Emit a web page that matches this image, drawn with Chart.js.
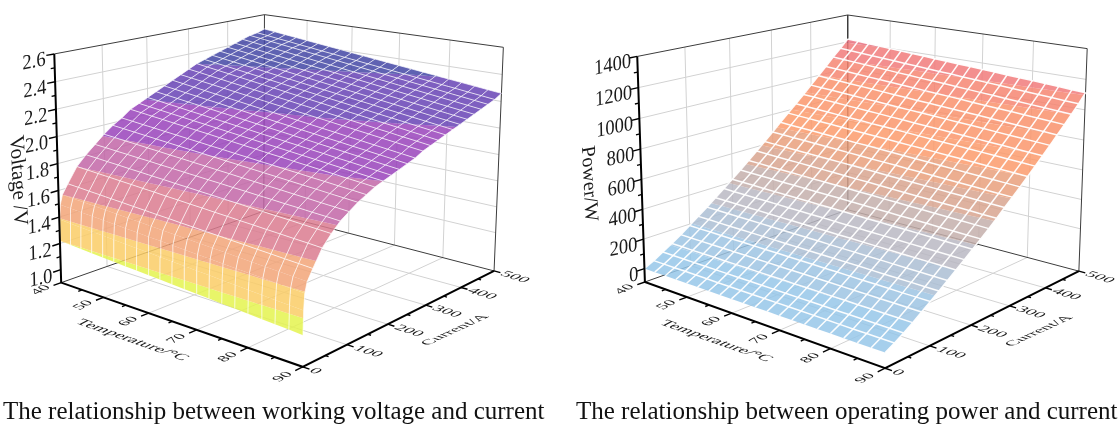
<!DOCTYPE html>
<html>
<head>
<meta charset="utf-8">
<title>Working voltage and operating power against current and temperature</title>
<script src="https://cdn.jsdelivr.net/npm/chart.js@4/dist/chart.umd.min.js"></script>
<style>
  html, body { margin: 0; padding: 0; background: #fff; }
  body { position: relative; width: 1118px; height: 424px; overflow: hidden; }
  canvas { position: absolute; top: 0; filter: blur(0.4px); }
  #voltageChart { left: 0; }
  #powerChart { left: 559px; }
  .caption { position: absolute; top: 397px; font: 25px/28px "Liberation Serif", serif; color: #111; white-space: nowrap; filter: blur(0.3px); }
</style>
</head>
<body>
<canvas id="voltageChart" width="559" height="395"></canvas>
<canvas id="powerChart" width="559" height="395"></canvas>
<div class="caption" style="left:3px">The relationship between working voltage and current</div>
<div class="caption" style="left:576px">The relationship between operating power and current</div>
<script>
// Surfaces. Each inner list runs along temperatures, one list per current.
const temperatures = [40, 42.5, 45, 47.5, 50, 52.5, 55, 57.5, 60, 62.5, 65, 67.5, 70, 72.5, 75, 77.5, 80, 82.5, 85, 87.5, 90];
const currents = [0, 20, 40, 60, 80, 100, 120, 140, 160, 180, 200, 220, 240, 260, 280, 300, 320, 340, 360, 380, 400, 420, 440, 460, 480, 500];
// the voltage climbs steeply below 20 A, so that stretch has a few more readings
const voltageCurrents = [0, 1, 3, 8, 20, 40, 60, 80, 100, 120, 140, 160, 180, 200, 220, 240, 260, 280, 300, 320, 340, 360, 380, 400, 420, 440, 460, 480, 500];

const voltageByCurrent = [
  [1.220,1.215,1.209,1.204,1.198,1.193,1.187,1.182,1.176,1.171,1.165,1.160,1.154,1.149,1.143,1.138,1.132,1.127,1.121,1.116,1.110],
  [1.380,1.375,1.369,1.364,1.358,1.353,1.347,1.342,1.336,1.331,1.325,1.320,1.314,1.309,1.303,1.298,1.292,1.287,1.281,1.276,1.270],
  [1.490,1.485,1.479,1.474,1.468,1.463,1.457,1.452,1.446,1.441,1.435,1.430,1.424,1.419,1.413,1.408,1.402,1.397,1.391,1.386,1.380],
  [1.560,1.555,1.549,1.544,1.538,1.533,1.527,1.522,1.516,1.511,1.505,1.500,1.494,1.489,1.483,1.478,1.472,1.467,1.461,1.456,1.450],
  [1.630,1.625,1.619,1.614,1.608,1.603,1.597,1.592,1.586,1.581,1.575,1.570,1.564,1.559,1.553,1.548,1.542,1.537,1.531,1.526,1.520],
  [1.740,1.735,1.729,1.724,1.718,1.713,1.707,1.702,1.696,1.691,1.685,1.680,1.674,1.669,1.663,1.658,1.652,1.647,1.641,1.636,1.630],
  [1.810,1.805,1.799,1.794,1.788,1.783,1.777,1.772,1.766,1.761,1.755,1.750,1.744,1.739,1.733,1.728,1.722,1.717,1.711,1.706,1.700],
  [1.870,1.865,1.859,1.854,1.848,1.843,1.837,1.832,1.826,1.821,1.815,1.810,1.804,1.799,1.793,1.788,1.782,1.777,1.771,1.766,1.760],
  [1.930,1.924,1.917,1.911,1.904,1.898,1.891,1.885,1.878,1.872,1.865,1.859,1.852,1.846,1.839,1.833,1.826,1.820,1.813,1.807,1.800],
  [1.980,1.973,1.966,1.959,1.952,1.945,1.938,1.931,1.924,1.917,1.910,1.903,1.896,1.889,1.882,1.875,1.868,1.861,1.854,1.847,1.840],
  [2.020,2.013,2.005,1.998,1.990,1.983,1.975,1.968,1.960,1.953,1.945,1.938,1.930,1.923,1.915,1.908,1.900,1.893,1.885,1.878,1.870],
  [2.070,2.062,2.053,2.045,2.036,2.028,2.019,2.011,2.002,1.994,1.985,1.977,1.968,1.960,1.951,1.943,1.934,1.926,1.917,1.909,1.900],
  [2.100,2.091,2.082,2.073,2.064,2.055,2.046,2.037,2.028,2.019,2.010,2.001,1.992,1.983,1.974,1.965,1.956,1.947,1.938,1.929,1.920],
  [2.130,2.121,2.111,2.102,2.092,2.083,2.073,2.064,2.054,2.045,2.035,2.026,2.016,2.007,1.997,1.988,1.978,1.969,1.959,1.950,1.940],
  [2.160,2.150,2.140,2.130,2.120,2.110,2.100,2.090,2.080,2.070,2.060,2.050,2.040,2.030,2.020,2.010,2.000,1.990,1.980,1.970,1.960],
  [2.190,2.180,2.169,2.159,2.148,2.138,2.127,2.117,2.106,2.096,2.085,2.075,2.064,2.054,2.043,2.033,2.022,2.012,2.001,1.991,1.980],
  [2.220,2.209,2.198,2.187,2.176,2.165,2.154,2.143,2.132,2.121,2.110,2.099,2.088,2.077,2.066,2.055,2.044,2.033,2.022,2.011,2.000],
  [2.250,2.239,2.228,2.217,2.206,2.195,2.184,2.173,2.162,2.151,2.140,2.129,2.118,2.107,2.096,2.085,2.074,2.063,2.052,2.041,2.030],
  [2.280,2.269,2.257,2.246,2.234,2.223,2.211,2.200,2.188,2.177,2.165,2.154,2.142,2.131,2.119,2.108,2.096,2.085,2.073,2.062,2.050],
  [2.310,2.298,2.286,2.274,2.262,2.250,2.238,2.226,2.214,2.202,2.190,2.178,2.166,2.154,2.142,2.130,2.118,2.106,2.094,2.082,2.070],
  [2.330,2.318,2.306,2.294,2.282,2.270,2.258,2.246,2.234,2.222,2.210,2.198,2.186,2.174,2.162,2.150,2.138,2.126,2.114,2.102,2.090],
  [2.350,2.338,2.326,2.314,2.302,2.290,2.278,2.266,2.254,2.242,2.230,2.218,2.206,2.194,2.182,2.170,2.158,2.146,2.134,2.122,2.110],
  [2.370,2.358,2.346,2.334,2.322,2.310,2.298,2.286,2.274,2.262,2.250,2.238,2.226,2.214,2.202,2.190,2.178,2.166,2.154,2.142,2.130],
  [2.390,2.378,2.366,2.354,2.342,2.330,2.318,2.306,2.294,2.282,2.270,2.258,2.246,2.234,2.222,2.210,2.198,2.186,2.174,2.162,2.150],
  [2.410,2.398,2.386,2.374,2.362,2.350,2.338,2.326,2.314,2.302,2.290,2.278,2.266,2.254,2.242,2.230,2.218,2.206,2.194,2.182,2.170],
  [2.430,2.418,2.406,2.394,2.382,2.370,2.358,2.346,2.334,2.322,2.310,2.298,2.286,2.274,2.262,2.250,2.238,2.226,2.214,2.202,2.190],
  [2.450,2.438,2.426,2.414,2.402,2.390,2.378,2.366,2.354,2.342,2.330,2.318,2.306,2.294,2.282,2.270,2.258,2.246,2.234,2.222,2.210],
  [2.460,2.449,2.437,2.426,2.414,2.403,2.391,2.380,2.368,2.357,2.345,2.334,2.322,2.311,2.299,2.288,2.276,2.265,2.253,2.242,2.230],
  [2.480,2.469,2.458,2.447,2.436,2.425,2.414,2.403,2.392,2.381,2.370,2.359,2.348,2.337,2.326,2.315,2.304,2.293,2.282,2.271,2.260],
];

const powerByCurrent = [
  [0,0,0,0,0,0,0,0,0,0,0,0,0,0,0,0,0,0,0,0,0],
  [32,32,32,32,32,32,31,31,31,31,31,31,31,31,31,31,30,30,30,30,30],
  [69,69,69,68,68,68,68,67,67,67,67,66,66,66,66,65,65,65,65,64,64],
  [107,107,106,106,106,105,105,105,104,104,104,103,103,103,102,102,101,101,101,100,100],
  [147,147,146,146,145,145,145,144,144,143,143,143,142,142,141,141,141,140,140,139,139],
  [190,189,189,188,187,187,186,185,185,184,184,183,182,182,181,180,180,179,178,178,177],
  [234,233,232,231,231,230,229,228,227,226,226,225,224,223,222,221,220,220,219,218,217],
  [279,278,277,276,275,274,273,272,271,270,269,267,266,265,264,263,262,261,260,259,258],
  [326,325,323,322,321,319,318,317,315,314,313,311,310,308,307,306,304,303,302,300,299],
  [372,370,369,367,366,364,362,361,359,358,356,354,353,351,350,348,346,345,343,342,340],
  [420,418,416,414,412,411,409,407,405,403,401,399,397,395,393,392,390,388,386,384,382],
  [468,466,464,462,459,457,455,453,451,449,447,444,442,440,438,436,434,431,429,427,425],
  [518,516,513,511,508,506,503,501,498,496,493,491,488,486,483,481,478,476,473,471,468],
  [569,566,563,560,558,555,552,549,546,543,541,538,535,532,529,526,523,521,518,515,512],
  [621,618,615,612,609,606,603,600,597,594,591,587,584,581,578,575,572,569,566,563,560],
  [674,671,667,664,660,657,654,650,647,643,640,637,633,630,626,623,620,616,613,609,606],
  [728,724,720,717,713,709,705,701,698,694,690,686,682,679,675,671,667,663,660,656,652],
  [780,776,772,768,764,760,756,752,748,744,740,736,732,728,724,720,716,712,708,704,700],
  [833,829,825,820,816,812,808,803,799,795,791,786,782,778,774,769,765,761,757,752,748],
  [887,883,878,874,869,865,860,856,851,847,842,838,833,829,824,820,815,811,806,802,797],
  [942,937,933,928,923,918,914,909,904,899,895,890,885,880,876,871,866,861,857,852,847],
  [997,992,987,982,977,972,967,962,957,952,948,943,938,933,928,923,918,913,908,903,898],
  [1053,1048,1043,1037,1032,1027,1022,1017,1011,1006,1001,996,991,985,980,975,970,965,959,954,949],
  [1110,1105,1099,1094,1088,1083,1077,1072,1066,1061,1056,1050,1045,1039,1034,1028,1023,1017,1012,1006,1001],
  [1163,1158,1152,1147,1141,1136,1130,1125,1119,1114,1109,1103,1098,1092,1087,1081,1076,1070,1065,1059,1054],
  [1221,1216,1210,1205,1199,1194,1189,1183,1178,1172,1167,1162,1156,1151,1145,1140,1135,1129,1124,1118,1113],
];

const temperatureTicks = [40, 50, 60, 70, 80, 90];
const currentTicks = [0, 100, 200, 300, 400, 500];
const voltageTicks = [1.0, 1.2, 1.4, 1.6, 1.8, 2.0, 2.2, 2.4, 2.6];
const powerTicks = [0, 200, 400, 600, 800, 1000, 1200, 1400];

const voltageLevels = [1.22, 1.39, 1.56, 1.74, 1.92, 2.12, 2.31];
const voltageColors = ["228,243,79", "250,205,102", "242,164,120", "219,123,143", "194,102,167", "153,67,187", "103,67,181", "67,70,165"];
const powerLevels = [100, 200, 300, 400, 500, 600, 700, 800, 900, 1000, 1100, 1200];
const powerColors = ["150,199,233", "158,196,227", "172,190,212", "186,185,195", "196,175,172", "216,164,143", "233,160,125", "252,155,108", "250,150,108", "249,146,108", "246,134,114", "241,123,123", "236,116,132"];

// Where the box corners and axis ticks sit in the picture: [temperature, current, z, x, y], all but x, y as 0..1.
const voltageAnchors = [
  [0, 0, 0, 63, 283], [0, 0, 1, 54, 54], [0, 1, 0, 263, 211], [0, 1, 1, 265, 14],
  [1, 1, 0, 493, 271], [1, 1, 1, 503, 48], [1, 0, 0, 303, 366],
  [0.2, 0, 0, 103, 298], [0.4, 0, 0, 148, 313], [0.6, 0, 0, 197, 330], [0.8, 0, 0, 245, 348],
  [1, 0.2, 0, 348, 344], [1, 0.4, 0, 388, 324], [1, 0.6, 0, 427, 305], [1, 0.8, 0, 462, 288],
];
const powerAnchors = [
  [0, 0, 0, 647, 284], [0, 0, 1, 637, 56], [0, 1, 0, 847, 208], [0, 1, 1, 848, 15],
  [1, 1, 0, 1077, 272], [1, 1, 1, 1087, 49], [1, 0, 0, 885, 367],
  [0.2, 0, 0, 686, 298], [0.4, 0, 0, 731, 313], [0.6, 0, 0, 780, 330], [0.8, 0, 0, 828, 348],
  [1, 0.2, 0, 930, 345], [1, 0.4, 0, 972, 325], [1, 0.6, 0, 1011, 306], [1, 0.8, 0, 1047, 289],
];

// Least squares fit of the 3x4 camera matrix behind the box in the picture.
function fitCamera(anchors) {
  const A = Array.from({ length: 11 }, () => new Array(12).fill(0));
  const addRow = (row, rhs) => {
    for (let r = 0; r < 11; r++) {
      for (let c = 0; c < 11; c++) A[r][c] += row[r] * row[c];
      A[r][11] += row[r] * rhs;
    }
  };
  for (const [t, i, z, px, py] of anchors) {
    const x = px / 1000, y = py / 1000;
    addRow([t, i, z, 1, 0, 0, 0, 0, -x * t, -x * i, -x * z], x);
    addRow([0, 0, 0, 0, t, i, z, 1, -y * t, -y * i, -y * z], y);
  }
  for (let c = 0; c < 11; c++) {
    let best = c;
    for (let r = c + 1; r < 11; r++) if (Math.abs(A[r][c]) > Math.abs(A[best][c])) best = r;
    [A[c], A[best]] = [A[best], A[c]];
    for (let r = 0; r < 11; r++) {
      if (r === c) continue;
      const f = A[r][c] / A[c][c];
      for (let k = c; k < 12; k++) A[r][k] -= f * A[c][k];
    }
  }
  const m = A.map((row, r) => row[11] / row[r]);
  return (t, i, z) => {
    const w = m[8] * t + m[9] * i + m[10] * z + 1;
    return {
      x: (1000 * (m[0] * t + m[1] * i + m[2] * z + m[3])) / w,
      y: (1000 * (m[4] * t + m[5] * i + m[6] * z + m[7])) / w,
    };
  };
}

// Keeps the part of a cell polygon whose value side is above (sign 1) or below (sign -1) the level.
function clipCell(poly, level, sign) {
  const out = [];
  poly.forEach((a, k) => {
    const b = poly[(k + 1) % poly.length];
    const da = (a[2] - level) * sign, db = (b[2] - level) * sign;
    if (da >= 0) out.push(a);
    if (da >= 0 !== db >= 0) {
      const f = da / (da - db);
      out.push([a[0] + (b[0] - a[0]) * f, a[1] + (b[1] - a[1]) * f, level]);
    }
  });
  return out;
}

function surfaceChart(canvasId, cfg) {
  const project = fitCamera(cfg.anchors);
  const tNorm = (t) => (t - 40) / 50;
  const iNorm = (i) => i / 500;
  const zNorm = (v) => (v - cfg.zMin) / (cfg.zMax - cfg.zMin);
  const toPixel = (t, i, v) => project(tNorm(t), iNorm(i), zNorm(v));

  const layers = [];
  const line = (points, color, width) =>
    layers.push({ data: points, showLine: true, pointRadius: 0, borderColor: color, borderWidth: width, tension: 0 });
  const box = (t, i, z) => project(t, i, z);

  // back walls and floor
  const grid = "#d2d2d2";
  for (const v of cfg.zTicks.slice(1, -1)) {
    const z = zNorm(v);
    line([box(0, 0, z), box(0, 1, z), box(1, 1, z)], grid, 1);
  }
  for (const i of currentTicks.slice(1, -1)) {
    line([box(0, iNorm(i), 0), box(0, iNorm(i), 1)], grid, 1);
    line([box(0, iNorm(i), 0), box(1, iNorm(i), 0)], grid, 1);
  }
  for (const t of temperatureTicks.slice(1, -1)) {
    line([box(tNorm(t), 1, 0), box(tNorm(t), 1, 1)], grid, 1);
    line([box(tNorm(t), 0, 0), box(tNorm(t), 1, 0)], grid, 1);
  }
  const edge = "#3c3c3c";
  line([box(0, 0, 1), box(0, 1, 1), box(1, 1, 1), box(1, 1, 0)], edge, 1);
  line([box(0, 1, 1), box(0, 1, 0)], edge, 1);
  line([box(0, 0, 0), box(0, 1, 0), box(1, 1, 0)], edge, 1);

  // colour bands of the surface, one polygon per cell and band
  for (let c = 0; c < cfg.currents.length - 1; c++) {
    for (let r = 0; r < temperatures.length - 1; r++) {
      const cell = [[r, c], [r + 1, c], [r + 1, c + 1], [r, c + 1]].map(([a, b]) => [temperatures[a], cfg.currents[b], cfg.values[b][a]]);
      cfg.colors.forEach((color, band) => {
        let poly = cell;
        if (band > 0) poly = clipCell(poly, cfg.levels[band - 1], 1);
        if (band < cfg.levels.length && poly.length) poly = clipCell(poly, cfg.levels[band], -1);
        if (poly.length < 3) return;
        layers.push({
          data: poly.map((p) => toPixel(p[0], p[1], p[2])),
          showLine: true, pointRadius: 0, borderWidth: 0, borderColor: "transparent",
          backgroundColor: `rgba(${color},0.85)`, fill: "shape", tension: 0,
        });
      });
    }
  }

  // white mesh: lines along current pass every reading, lines along temperature only the 20 A steps
  temperatures.forEach((t, r) => line(cfg.currents.map((i, c) => toPixel(t, i, cfg.values[c][r])), cfg.meshColor, cfg.meshWidth));
  cfg.currents.forEach((i, c) => {
    if (i === 0 || !currents.includes(i)) return;
    line(temperatures.map((t, r) => toPixel(t, i, cfg.values[c][r])), cfg.meshColor, cfg.meshWidth);
  });

  // front axes and ticks
  line([box(0, 0, 1), box(0, 0, 0), box(1, 0, 0), box(1, 1, 0)], "#000", 2);
  for (let v = cfg.zTicks[0]; v <= cfg.zMax + 1e-6; v += cfg.zMinorStep) {
    const major = cfg.zTicks.some((m) => Math.abs(m - v) < 1e-6);
    line([box(0, 0, zNorm(v)), box(0, major ? -0.032 : -0.016, zNorm(v))], "#000", 1.4);
  }
  for (let t = 40; t <= 90; t += 5) {
    line([box(tNorm(t), 0, 0), box(tNorm(t), t % 10 ? -0.016 : -0.032, 0)], "#000", 1.4);
  }
  for (let i = 0; i <= 500; i += 50) {
    line([box(1, iNorm(i), 0), box(i % 100 ? 1.012 : 1.024, iNorm(i), 0)], "#000", 1.4);
  }

  // text
  const labels = [];
  const label = (text, at, size, align, ax, ay, bx, by) => labels.push({ text, at, size, align, ax, ay, bx, by });
  cfg.zTicks.forEach((v) => {
    const p = box(0, cfg.zLabelGap, zNorm(v));
    label(cfg.zFormat(v), { x: p.x, y: p.y + 4 }, 21, "right", 0.88, -0.18, 0.02, 1);
  });
  temperatureTicks.forEach((t) => label(String(t), box(tNorm(t), -0.085, 0), 17, "center", 0.85, -0.45, 0.72, 0.3));
  currentTicks.forEach((i) => label(String(i), box(1.03, iNorm(i), 0), 18, "left", 0.95, 0.3, -0.6, 0.37));
  label("Temperature/°C", cfg.tempTitle, 18, "center", 0.94, 0.33, -0.7, 0.36);
  label("Current/A", cfg.currentTitle, 17, "center", 0.9, -0.42, 0.74, 0.26);
  label(cfg.zTitle, cfg.zTitleAt, cfg.zTitleSize, "center", 0.05, 1, -0.98, 0.19);

  const labelPlugin = {
    id: "boxLabels",
    afterDraw(chart) {
      const { ctx, scales } = chart;
      ctx.save();
      ctx.fillStyle = "#1a1a1a";
      ctx.textBaseline = "middle";
      for (const l of labels) {
        ctx.save();
        ctx.transform(l.ax, l.ay, l.bx, l.by, scales.x.getPixelForValue(l.at.x), scales.y.getPixelForValue(l.at.y));
        ctx.font = `${l.size}px "Liberation Serif", serif`;
        ctx.textAlign = l.align;
        ctx.fillText(l.text, 0, 0);
        ctx.restore();
      }
      ctx.restore();
    },
  };

  // Chart.js paints the first dataset last
  new Chart(document.getElementById(canvasId), {
    type: "scatter",
    data: { datasets: layers.reverse() },
    options: {
      responsive: false,
      animation: false,
      events: [],
      layout: { padding: 0 },
      plugins: { legend: { display: false }, tooltip: { enabled: false } },
      scales: {
        x: { type: "linear", display: false, min: cfg.xMin, max: cfg.xMin + 559 },
        y: { type: "linear", display: false, min: 0, max: 395, reverse: true },
      },
    },
    plugins: [labelPlugin],
  });
}

surfaceChart("voltageChart", {
  anchors: voltageAnchors, currents: voltageCurrents, values: voltageByCurrent, levels: voltageLevels, colors: voltageColors,
  xMin: 0, zMin: 0.9, zMax: 2.6, zTicks: voltageTicks, zMinorStep: 0.1, zLabelGap: -0.035, zFormat: (v) => v.toFixed(1),
  meshColor: "rgba(255,255,255,0.7)", meshWidth: 1,
  zTitle: "Voltage /V", zTitleSize: 21, zTitleAt: { x: 18, y: 181 }, tempTitle: { x: 132, y: 340 }, currentTitle: { x: 455, y: 330 },
});
surfaceChart("powerChart", {
  anchors: powerAnchors, currents: currents, values: powerByCurrent, levels: powerLevels, colors: powerColors,
  xMin: 559, zMin: -92, zMax: 1400, zTicks: powerTicks, zMinorStep: 100, zLabelGap: -0.025, zFormat: (v) => String(v),
  meshColor: "rgba(255,255,255,0.95)", meshWidth: 1.5,
  zTitle: "Power/W", zTitleSize: 20, zTitleAt: { x: 589, y: 184 }, tempTitle: { x: 716, y: 341 }, currentTitle: { x: 1039, y: 331 },
});
</script>
</body>
</html>
